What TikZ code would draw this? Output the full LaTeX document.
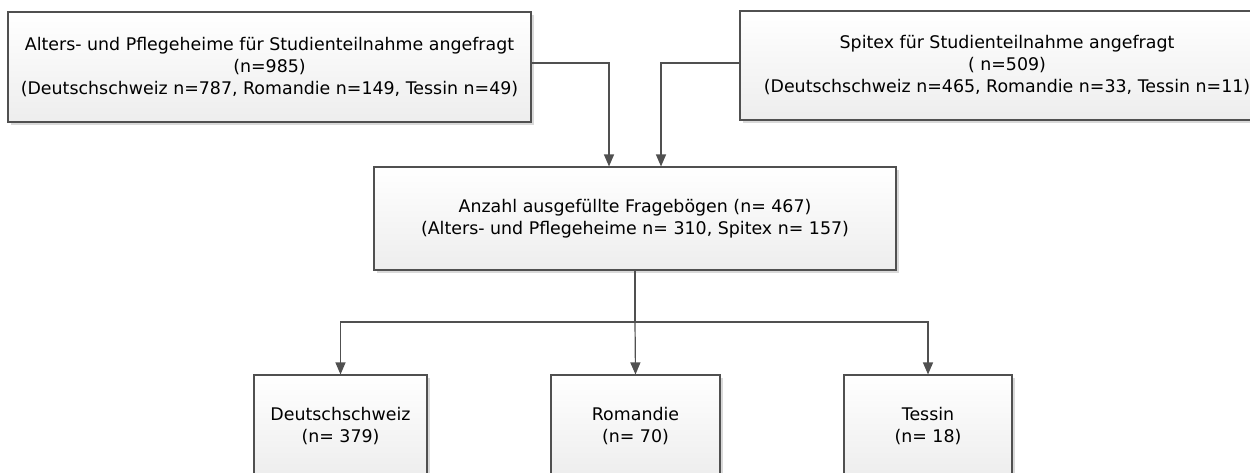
\documentclass[tikz,border=0pt]{standalone}
\usepackage{fontspec}
\setmainfont{DejaVu Sans}
\usetikzlibrary{arrows.meta,shadows,calc}
\definecolor{edge}{HTML}{505050}
\definecolor{shade}{HTML}{D9D9D9}
\tikzset{
  box/.style={draw=edge, line width=1.1pt, rectangle, align=center,
    top color=white, bottom color=black!7,
    drop shadow={shadow xshift=3pt, shadow yshift=-3pt, fill=shade, opacity=1},
    font=\fontsize{17.4}{22}\selectfont, inner sep=0pt},
  ln/.style={draw=edge, line width=1.2pt},
  arr/.style={ln, -{Triangle[length=12pt,width=10pt]}}
}
\begin{document}
\begin{tikzpicture}[x=1pt,y=-1pt]
\useasboundingbox (0,0) rectangle (1250,473);
\clip (0,0) rectangle (1250,473);
\fill[white] (0,0) rectangle (1250,473);
\node[box, minimum width=523pt, minimum height=110pt] (A) at (269.5,67)
  {Alters- und Pflegeheime für Studienteilnahme angefragt\\(n=985)\\(Deutschschweiz n=787, Romandie n=149, Tessin n=49)};
\node[box, minimum width=534pt, minimum height=109pt] (B) at (1007,65.5)
  {Spitex für Studienteilnahme angefragt\\( n=509)\\(Deutschschweiz n=465, Romandie n=33, Tessin n=11)};
\node[box, minimum width=522pt, minimum height=103pt] (C) at (635,218.5)
  {Anzahl ausgefüllte Fragebögen (n= 467)\\(Alters- und Pflegeheime n= 310, Spitex n= 157)};
\node[box, minimum width=173pt, minimum height=102pt] (D) at (340.5,426)
  {Deutschschweiz\\(n= 379)};
\node[box, minimum width=169pt, minimum height=102pt] (R) at (635.5,426)
  {Romandie\\(n= 70)};
\node[box, minimum width=168pt, minimum height=102pt] (T) at (928,426)
  {Tessin\\(n= 18)};
\draw[arr] ([yshift=4pt]A.east) -| ([xshift=-26pt]C.north);
\draw[arr] ([yshift=2.5pt]B.west) -| ([xshift=26pt]C.north);
\coordinate (br) at (C.south |- 0,322);
\draw[ln] (C.south) -- (br);
\draw[arr] (br) -| (D.north);
\draw[arr] (br) -- (R.north);
\draw[arr] (br) -| (T.north);
\end{tikzpicture}
\end{document}
